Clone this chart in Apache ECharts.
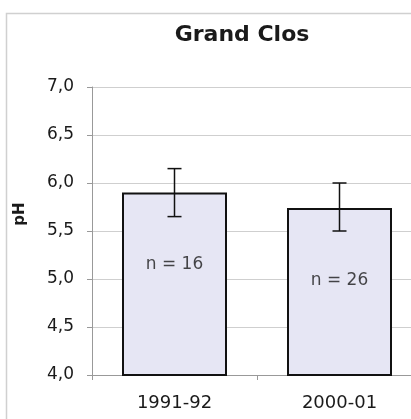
<!DOCTYPE html>
<html>
<head>
<meta charset="utf-8">
<script src="https://cdn.jsdelivr.net/npm/echarts@6/dist/echarts.min.js"></script>
<style>
html, body { margin: 0; padding: 0; background: #fff; }
#main { width: 411px; height: 419px; }
</style>
</head>
<body>
<div id="main"></div>
<script>
var categories = ['1991-92', '2000-01'];
var means = [5.9, 5.74];
var errLow = [5.65, 5.5];
var errHigh = [6.15, 6.0];
var nLabels = ['n = 16', 'n = 26'];
var nLabelY = [5.15, 4.98];

var chart = echarts.init(document.getElementById('main'));
var font = 'DejaVu Sans, Verdana, sans-serif';

var errData = [];
for (var i = 0; i < categories.length; i++) {
	errData.push([i, errLow[i], errHigh[i]]);
}
var labelData = [];
for (var j = 0; j < categories.length; j++) {
	labelData.push({ value: [j, nLabelY[j]], label: { formatter: nLabels[j] } });
}

var option = {
	backgroundColor: '#fff',
	animation: false,
	title: {
		text: 'Grand Clos',
		left: 237,
		top: 19,
		textAlign: 'center',
		textStyle: { fontFamily: font, fontSize: 22, fontWeight: 'bold', color: '#1a1a1a' }
	},
	graphic: [
		{
			type: 'rect',
			shape: { x: 6.5, y: 13.5, width: 420, height: 420 },
			style: { fill: 'none', stroke: '#d0d0d0', lineWidth: 1.5 },
			silent: true
		},
		{
			type: 'text',
			x: 20,
			y: 214,
			rotation: Math.PI / 2,
			style: {
				text: 'pH',
				font: 'bold 15px ' + font,
				fill: '#1a1a1a',
				align: 'center',
				verticalAlign: 'middle'
			}
		}
	],
	// grid runs past the right edge of the window, like the cropped original
	grid: { left: 92, top: 87, width: 330, height: 288, outerBoundsMode: 'none', containLabel: false },
	xAxis: {
		type: 'category',
		data: categories,
		axisLine: { lineStyle: { color: '#999', width: 1 } },
		axisTick: { show: true, interval: 0, length: 5, lineStyle: { color: '#999' } },
		axisLabel: { fontFamily: font, fontSize: 18, color: '#1a1a1a', margin: 19 },
		splitLine: { show: false }
	},
	yAxis: {
		type: 'value',
		min: 4,
		max: 7,
		interval: 0.5,
		axisLine: { show: true, lineStyle: { color: '#999' } },
		axisTick: { show: true, length: 5, lineStyle: { color: '#999' } },
		axisLabel: {
			fontFamily: font, fontSize: 17, color: '#1a1a1a', margin: 18,
			formatter: function (v) { return v.toFixed(1).replace('.', ','); }
		},
		splitLine: { lineStyle: { color: '#cfcfcf', width: 1 } }
	},
	series: [
		{
			type: 'bar',
			data: means,
			barWidth: 105,
			itemStyle: { color: '#e6e6f4', borderColor: '#111', borderWidth: 2 },
			z: 2
		},
		{
			type: 'custom',
			data: errData,
			z: 5,
			renderItem: function (params, api) {
				var x = api.value(0);
				var lo = api.coord([x, api.value(1)]);
				var hi = api.coord([x, api.value(2)]);
				var cap = 7;
				var st = { stroke: '#111', lineWidth: 1.5 };
				return {
					type: 'group',
					children: [
						{ type: 'line', shape: { x1: lo[0], y1: lo[1], x2: hi[0], y2: hi[1] }, style: st },
						{ type: 'line', shape: { x1: lo[0] - cap, y1: lo[1], x2: lo[0] + cap, y2: lo[1] }, style: st },
						{ type: 'line', shape: { x1: hi[0] - cap, y1: hi[1], x2: hi[0] + cap, y2: hi[1] }, style: st }
					]
				};
			}
		},
		{
			type: 'scatter',
			data: labelData,
			symbolSize: 0,
			z: 6,
			label: {
				show: true,
				position: 'inside',
				fontFamily: font,
				fontSize: 17,
				color: '#1a1a1a'
			}
		}
	]
};

chart.setOption(option);
</script>
</body>
</html>
